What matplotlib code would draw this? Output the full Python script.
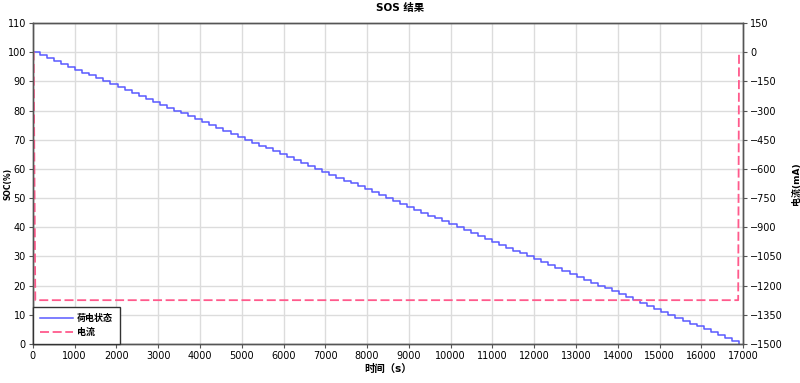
import matplotlib
matplotlib.use("Agg")
import matplotlib.pyplot as plt

plt.rcParams['font.family'] = ['DejaVu Sans', 'Noto Sans CJK SC']

# SOC staircase (1 % steps)
soc_time = [0, 169, 338, 507, 676, 845, 1014, 1183, 1352, 1521,
            1690, 1859, 2028, 2197, 2366, 2535, 2704, 2873, 3042, 3211,
            3380, 3549, 3718, 3887, 4056, 4225, 4394, 4563, 4732, 4901,
            5070, 5239, 5408, 5577, 5746, 5915, 6084, 6253, 6422, 6591,
            6760, 6929, 7098, 7267, 7436, 7605, 7774, 7943, 8112, 8281,
            8450, 8619, 8788, 8957, 9126, 9295, 9464, 9633, 9802, 9971,
            10140, 10309, 10478, 10647, 10816, 10985, 11154, 11323, 11492, 11661,
            11830, 11999, 12168, 12337, 12506, 12675, 12844, 13013, 13182, 13351,
            13520, 13689, 13858, 14027, 14196, 14365, 14534, 14703, 14872, 15041,
            15210, 15379, 15548, 15717, 15886, 16055, 16224, 16393, 16562, 16731,
            16900]
soc_value = [100, 99, 98, 97, 96, 95, 94, 93, 92, 91,
             90, 89, 88, 87, 86, 85, 84, 83, 82, 81,
             80, 79, 78, 77, 76, 75, 74, 73, 72, 71,
             70, 69, 68, 67, 66, 65, 64, 63, 62, 61,
             60, 59, 58, 57, 56, 55, 54, 53, 52, 51,
             50, 49, 48, 47, 46, 45, 44, 43, 42, 41,
             40, 39, 38, 37, 36, 35, 34, 33, 32, 31,
             30, 29, 28, 27, 26, 25, 24, 23, 22, 21,
             20, 19, 18, 17, 16, 15, 14, 13, 12, 11,
             10, 9, 8, 7, 6, 5, 4, 3, 2, 1,
             0]

# current (mA)
cur_time = [0, 20, 60, 16880, 16900]
cur_value = [0, 0, -1275, -1275, 0]

fig = plt.figure(figsize=(8, 3.83), dpi=100)
ax = fig.add_axes([0.041, 0.102, 0.888, 0.838])
ax2 = ax.twinx()

l1, = ax.step(soc_time, soc_value, where='post', color='#5a5aff', lw=1.1, label='荷电状态')
l2, = ax2.plot(cur_time, cur_value, color='#ff5a8c', lw=1.3, ls=(0, (5, 2)), label='电流')

ax.set_xlim(0, 17000)
ax.set_ylim(0, 110)
ax2.set_ylim(-1500, 150)
ax.set_xticks(range(0, 17001, 1000))
ax.set_yticks(range(0, 111, 10))
ax2.set_yticks(range(-1500, 151, 150))
ax.grid(True, color='#dcdcdc', lw=1)
ax.set_axisbelow(True)

for a in (ax, ax2):
    a.tick_params(labelsize=7, length=3, width=0.8, color='#555555', pad=2)
    for s in a.spines.values():
        s.set_color('#555555')
        s.set_linewidth(1)

fig.text(0.5, 0.993, 'SOS 结果', ha='center', va='top', fontsize=7.5, fontweight='bold')
ax.set_xlabel('时间（s）', fontsize=7.5, fontweight='bold', labelpad=2)
ax.set_ylabel('SOC(%)', fontsize=5.5, fontweight='bold')
ax.yaxis.set_label_coords(-0.028, 0.5)
ax2.set_ylabel('电流(mA)', fontsize=6.5, fontweight='bold', labelpad=6)

leg = ax2.legend(handles=[l1, l2], loc='lower left', fontsize=6.5, frameon=True,
                 fancybox=False, borderaxespad=0, handlelength=3.6,
                 borderpad=0.8, labelspacing=0.5, framealpha=1,
                 handletextpad=0.5)
leg.get_frame().set_edgecolor('#333333')
leg.get_frame().set_linewidth(1)
for t in leg.get_texts():
    t.set_fontweight('bold')

fig.savefig('out.png', dpi=100)
